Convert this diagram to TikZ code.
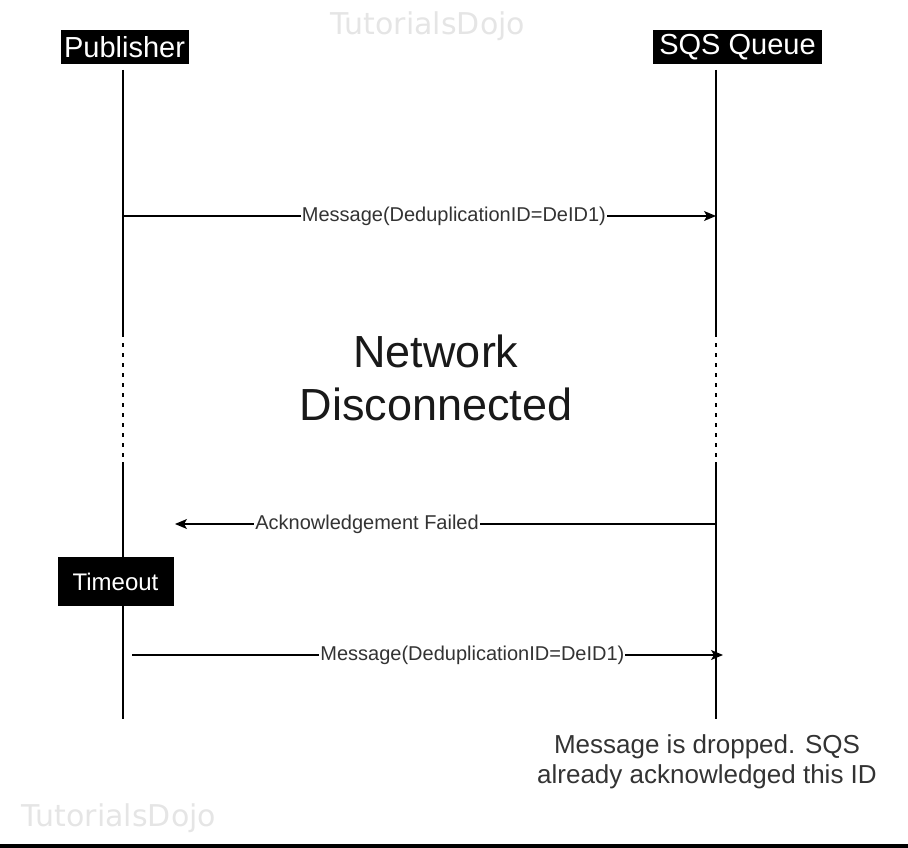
\documentclass[tikz,border=0pt]{standalone}
\usepackage{fontspec}
\setmainfont{Liberation Sans}
\newfontfamily\marcafont{DejaVu Sans}
\usetikzlibrary{arrows.meta}
\usetikzlibrary{positioning}

\begin{document}
\begin{tikzpicture}[
        x=1pt, y=-1pt, % Coordenadas en pixeles, y hacia abajo
        actor/.style={fill=black, text=white, inner sep=0pt,
        font=\fontsize{29}{34}\selectfont}, % Estilo para los participantes
        lifeline/.style={line width=1.1pt}, % Linea de vida
        cutline/.style={line width=1.1pt, dash pattern=on 4pt off 6pt}, % Tramo sin red
        msg/.style={-{Stealth[length=12pt, width=10pt, inset=3pt]}, line width=1.1pt}, % Mensajes
        msglabel/.style={fill=white, inner sep=1pt, text=black!80,
        font=\fontsize{20}{24}\selectfont}, % Etiquetas de los mensajes
        watermark/.style={text=black!10, font=\marcafont\fontsize{30}{34}\selectfont}
    ]
        \useasboundingbox (0,0) rectangle (908,848);

        % --- Marcas de agua ---
        \node[watermark] (wmtop) at (428,26) {TutorialsDojo};
        \node[watermark] (wmbot) at (119,818) {TutorialsDojo};

        % --- Participantes ---
        \node[actor, minimum width=128pt, minimum height=34pt] (pub) at (124.5,47) {Publisher};
        \node[actor, minimum width=169pt, minimum height=34pt] (sqs) at (737.5,47.5) {SQS Queue};

        % --- Lineas de vida ---
        \coordinate (pubtop) at (123,70);
        \coordinate (pubcuta) at (123,333);
        \coordinate (pubcutb) at (123,462);
        \coordinate (pubend) at (123,719);
        \coordinate (sqstop) at (716,70);
        \coordinate (sqscuta) at (716,333);
        \coordinate (sqscutb) at (716,462);
        \coordinate (sqsend) at (716,719);

        \draw[lifeline] (pubtop) -- (pubcuta);
        \draw[cutline] (pubcuta) -- (pubcutb);
        \draw[lifeline] (pubcutb) -- (pubend);
        \draw[lifeline] (sqstop) -- (sqscuta);
        \draw[cutline] (sqscuta) -- (sqscutb);
        \draw[lifeline] (sqscutb) -- (sqsend);

        % --- Red desconectada ---
        \node[align=center, text=black!90, font=\fontsize{45}{53}\selectfont] (net) at (436,378) {Network\\Disconnected};

        % --- Mensajes ---
        \coordinate (msgastart) at (123,216);
        \coordinate (msgaend) at (716,216);
        \draw[msg] (msgastart) -- (msgaend) node[msglabel, pos=0.558] (msgalab) {Message(DeduplicationID=DeID1)};

        \coordinate (ackstart) at (716,524);
        \coordinate (ackend) at (175,524);
        \draw[msg] (ackstart) -- (ackend) node[msglabel, pos=0.645] (acklab) {Acknowledgement Failed};

        \node[actor, font=\fontsize{24}{28}\selectfont, minimum width=116pt, minimum height=49pt] (timeout) at (115.5,581.5) {Timeout};

        \coordinate (msgbstart) at (132,655);
        \coordinate (msgbend) at (723,655);
        \draw[msg] (msgbstart) -- (msgbend) node[msglabel, pos=0.576] (msgblab) {Message(DeduplicationID=DeID1)};

        % --- Nota final ---
        \node[align=center, text=black!80, font=\fontsize{26}{30}\selectfont] (note) at (707,762) {Message is dropped. SQS\\already acknowledged this ID};

        % Borde inferior
        \fill[black] (0,844) rectangle (908,848);

    \end{tikzpicture}
\end{document}
